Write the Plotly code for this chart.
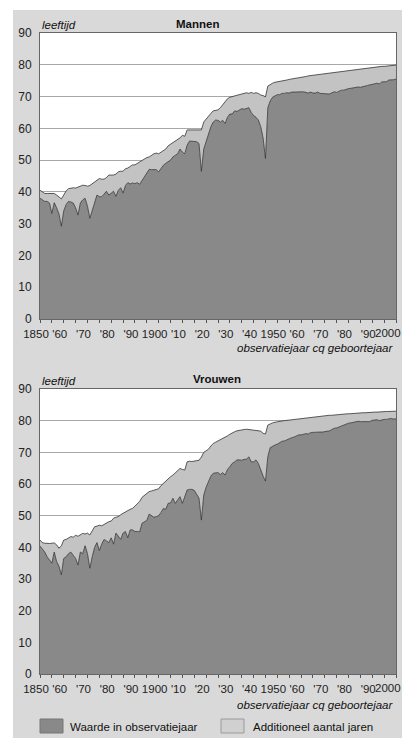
import plotly.graph_objects as go

years = list(range(1850, 2001))

men_period = [
    38.0, 37.5, 37.0, 37.0, 36.5, 33.2, 36.6, 35.0, 33.0, 29.2,
    34.0, 36.0, 37.0, 36.8, 36.5, 35.0, 32.7, 36.5, 37.5, 38.0,
    35.5, 31.7, 34.0, 37.0, 39.0, 38.5, 38.5, 39.3, 40.2, 39.0,
    39.5, 40.2, 38.6, 40.5, 41.3, 39.6, 42.0, 42.9, 42.5, 42.8,
    42.6, 42.9, 42.4, 43.5, 44.5, 45.8, 47.1, 47.0, 47.0, 47.0,
    46.3, 47.5, 48.4, 49.0, 49.5, 50.0, 51.0, 51.5, 52.0, 53.5,
    52.5, 52.0, 54.7, 56.0, 56.0, 56.0, 55.8, 55.2, 46.5, 53.5,
    56.0, 58.5, 60.5, 62.0, 62.6, 62.5, 62.0, 62.5, 61.5, 63.5,
    64.5, 64.5, 65.5, 65.3, 65.8, 66.2, 66.0, 66.3, 66.5, 65.0,
    64.0, 63.5, 62.6, 60.5, 57.0, 50.5, 66.5, 68.6, 69.8, 70.2,
    70.6, 70.6, 71.0, 71.0, 71.2, 71.1, 71.4, 71.4, 71.5, 71.4,
    71.5, 71.5, 71.3, 71.1, 71.4, 71.1, 71.1, 71.4, 71.0, 70.9,
    70.8, 70.9, 70.8, 71.2, 71.5, 71.3, 71.6, 72.0, 72.0, 72.3,
    72.5, 72.6, 72.8, 72.9, 73.0, 72.9, 73.0, 73.3, 73.5, 73.6,
    73.8, 74.0, 74.2, 74.0, 74.6, 74.6, 74.7, 75.2, 75.2, 75.3,
    75.5,
]

men_total = [
    40.5, 40.0, 39.5, 39.5, 39.5, 39.3, 39.5, 39.0, 38.5, 37.8,
    39.0, 40.3, 41.0, 41.2, 41.3, 41.2, 41.5, 41.8, 42.1, 42.0,
    41.8, 42.0, 42.5, 43.0, 43.5, 44.2, 44.0, 44.0, 44.5, 45.3,
    45.3, 45.3, 45.6, 46.3, 46.5, 46.5, 47.3, 47.5, 48.0, 48.5,
    48.5, 49.0, 49.5, 49.8, 50.3, 50.8, 51.0, 51.5, 52.0, 52.2,
    52.0, 52.5, 53.0, 53.5, 54.5, 55.0, 55.5, 55.8, 56.5, 57.0,
    57.8, 57.5, 59.5, 59.5, 59.5, 59.5, 59.4, 59.4, 59.5, 62.0,
    63.0, 64.0, 64.7, 65.5, 65.7, 65.8, 66.5, 67.5, 68.5, 69.3,
    69.8, 70.0, 70.3, 70.5, 70.8, 71.0, 71.1, 71.2, 71.0, 71.3,
    71.0, 71.2, 71.0, 70.5, 70.3, 69.9, 73.3, 73.8, 74.2, 74.5,
    74.6, 74.8, 74.9, 75.1, 75.2, 75.4, 75.5, 75.7, 75.8, 76.0,
    76.1, 76.2, 76.3, 76.5, 76.6, 76.7, 76.8, 76.9, 77.0, 77.1,
    77.3, 77.4, 77.5, 77.6, 77.7, 77.8, 77.9, 78.0, 78.1, 78.2,
    78.3, 78.4, 78.5, 78.6, 78.7, 78.8, 78.9, 78.9, 79.0, 79.1,
    79.2, 79.3, 79.3, 79.4, 79.5, 79.5, 79.6, 79.7, 79.7, 79.8,
    79.9,
]

women_period = [
    40.4, 39.5, 38.5, 37.0, 36.0, 35.0, 38.5, 35.5, 34.0, 31.3,
    36.5, 37.0, 38.0, 38.5, 37.5, 36.5, 34.4, 38.5, 38.0, 40.5,
    38.0, 33.4, 37.0, 40.0, 41.5, 39.0, 41.0, 42.5, 42.0, 41.5,
    43.0, 41.0, 44.5, 43.5, 42.5, 44.5, 45.0, 43.0, 45.5, 45.5,
    45.0, 45.0, 44.9, 47.6, 48.0, 48.5, 50.5, 50.0, 49.5, 49.7,
    50.0, 51.0, 52.3, 52.0, 53.9, 54.0, 55.5, 53.9, 55.0, 56.0,
    53.9, 56.0, 58.1, 58.3, 58.3, 58.0, 56.5, 55.5, 48.6, 56.5,
    59.0, 61.0, 62.5, 63.4, 63.4, 63.6, 63.0, 63.6, 62.8, 64.6,
    65.5, 66.5, 67.0, 67.6, 67.6, 67.5, 67.8, 67.8, 68.6, 67.0,
    67.0, 67.6, 66.5, 64.4, 62.5, 60.9, 68.6, 71.5, 72.0, 72.3,
    72.6, 73.2, 73.5, 73.6, 74.0, 74.3, 74.6, 74.8, 75.2, 75.5,
    75.5, 75.8, 75.9, 75.8, 76.2, 76.3, 76.4, 76.5, 76.4, 76.4,
    76.5, 76.7, 76.8, 77.2, 77.6, 77.7, 78.0, 78.5, 78.6, 79.0,
    79.2, 79.3, 79.5, 79.6, 79.8, 79.7, 79.7, 79.9, 79.8, 79.7,
    80.1, 80.1, 80.3, 80.0, 80.3, 80.4, 80.4, 80.5, 80.7, 80.5,
    80.6,
]

women_total = [
    42.3, 41.5, 41.3, 41.2, 41.2, 41.3, 41.4, 40.8, 39.7, 40.5,
    42.3, 42.5, 43.0, 43.4, 43.2, 43.8, 43.5, 44.0, 44.4, 44.2,
    44.5, 43.9, 45.0, 46.5, 46.7, 47.0, 46.8, 47.3, 47.8, 48.1,
    48.3, 49.2, 49.5, 49.7, 50.3, 50.8, 51.3, 51.6, 52.0, 52.3,
    53.0, 53.8, 54.5, 55.8, 56.5, 57.0, 57.6, 57.8, 58.0, 58.1,
    58.5, 59.5, 60.2, 61.0, 61.8, 62.3, 62.8, 63.5, 64.3, 64.9,
    64.6, 64.4, 67.0, 67.2, 67.1, 67.3, 67.3, 67.5, 68.5, 70.0,
    70.5, 71.0, 72.0, 72.8, 73.2, 73.6, 74.0, 74.3, 74.6, 75.2,
    75.7, 76.2, 76.5, 76.8, 77.0, 77.1, 77.2, 77.3, 77.2, 77.2,
    77.1, 77.0, 76.9, 76.7, 76.0, 75.8, 78.6, 79.0, 79.3, 79.5,
    79.7, 79.8, 79.9, 80.0, 80.1, 80.2, 80.3, 80.4, 80.5, 80.6,
    80.7, 80.8, 80.9, 81.0, 81.0, 81.1, 81.2, 81.3, 81.4, 81.4,
    81.5, 81.6, 81.7, 81.7, 81.8, 81.9, 81.9, 82.0, 82.1, 82.1,
    82.2, 82.2, 82.3, 82.3, 82.4, 82.4, 82.5, 82.5, 82.6, 82.6,
    82.7, 82.7, 82.7, 82.8, 82.8, 82.8, 82.9, 82.9, 82.9, 83.0,
    83.0,
]

tick_years = list(range(1850, 2001, 5))
tick_labels = ["1850", "", "'60", "", "'70", "", "'80", "", "'90", "", "1900", "",
               "'10", "", "'20", "", "'30", "", "'40", "", "1950", "", "'60", "",
               "'70", "", "'80", "", "'90", "", ""]
last_tick_label = "2000"   # placed flush with the right edge, as in the reference
y_ticks = list(range(0, 91, 10))

series_names = ["Waarde in observatiejaar", "Additioneel aantal jaren"]
panel_titles = ["Mannen", "Vrouwen"]

DARK = "#898989"
LIGHT = "#c3c3c3"
PANEL = "#d9d9d9"
LINE = "#333333"
FONT = "Liberation Sans, Arial, sans-serif"

men_extra = [t - p for t, p in zip(men_total, men_period)]
women_extra = [t - p for t, p in zip(women_total, women_period)]

fig = go.Figure()
for period, extra, xa, ya, grp in [
    (men_period, men_extra, "x", "y", "m"),
    (women_period, women_extra, "x2", "y2", "v"),
]:
    fig.add_trace(go.Scatter(
        x=years, y=period, name=series_names[0], stackgroup=grp,
        mode="lines", line=dict(color=LINE, width=0.8), fillcolor=DARK,
        xaxis=xa, yaxis=ya, showlegend=False, hoverinfo="x+y"))
    fig.add_trace(go.Scatter(
        x=years, y=extra, name=series_names[1], stackgroup=grp,
        mode="lines", line=dict(color=LINE, width=0.8), fillcolor=LIGHT,
        xaxis=xa, yaxis=ya, showlegend=False, hoverinfo="x+y"))

H = 738
ML, MR, MT, MB = 40, 6, 33, 64
PH = H - MT - MB
PW = 402 - ML - MR


def py(px):
    return (H - MB - px) / PH


def pxx(px):
    return (px - ML) / PW


xax = dict(range=[1850, 2000], tickmode="array", tickvals=tick_years, ticktext=tick_labels,
           ticks="outside", ticklen=3, tickcolor="#555555", showgrid=False,
           tickangle=0, ticklabelstandoff=1, ticklabelshift=-4,
           ticklabeloverflow="allow", automargin=False,
           showline=True, linecolor="#666666", linewidth=1, mirror=True, zeroline=False,
           tickfont=dict(family=FONT, size=11.5, color="#222222"), fixedrange=True)
yax = dict(range=[0, 90], tickmode="array", tickvals=y_ticks,
           ticks="outside", ticklen=5, tickcolor="rgba(0,0,0,0)", automargin=False,
           showgrid=True, gridcolor="#a8a8a8", gridwidth=1,
           showline=True, linecolor="#666666", linewidth=1, mirror=True, zeroline=False,
           tickfont=dict(family=FONT, size=12, color="#222222"), fixedrange=True)

fig.update_layout(
    width=402, height=H, autosize=False,
    margin=dict(l=ML, r=MR, t=MT, b=MB, pad=0, autoexpand=False),
    paper_bgcolor=PANEL, plot_bgcolor="white",
    showlegend=False,
    xaxis=dict(xax, domain=[0, 1], anchor="y"),
    yaxis=dict(yax, domain=[py(319), 1], anchor="x"),
    xaxis2=dict(xax, domain=[0, 1], anchor="y2"),
    yaxis2=dict(yax, domain=[0, py(389)], anchor="x2"),
)

shapes = [
    # white page outside the grey panel
    dict(type="rect", xref="paper", yref="paper", x0=-0.3, x1=pxx(13), y0=-0.3, y1=1.3,
         fillcolor="white", line=dict(width=0), layer="above"),
    dict(type="rect", xref="paper", yref="paper", x0=-0.3, x1=1.3, y0=py(10), y1=1.3,
         fillcolor="white", line=dict(width=0), layer="above"),
    # legend swatches
    dict(type="rect", xref="paper", yref="paper", x0=pxx(40), x1=pxx(63), y0=py(733), y1=py(719),
         fillcolor=DARK, line=dict(color="#777777", width=1)),
    dict(type="rect", xref="paper", yref="paper", x0=pxx(221), x1=pxx(244), y0=py(733), y1=py(719),
         fillcolor="#d0d0d0", line=dict(color="#9a9a9a", width=1)),
]

tf = dict(family=FONT, size=11.5, color="#111111")
tickf = dict(family=FONT, size=11.5, color="#222222")
ann = [
    dict(text="<b>" + panel_titles[0] + "</b>", x=pxx(197), y=py(24)),
    dict(text="<i>leeftijd</i>", x=pxx(40), y=py(25), xanchor="left"),
    dict(text="<i>observatiejaar cq geboortejaar</i>", x=pxx(396), y=py(348), xanchor="right"),
    dict(text=last_tick_label, x=pxx(402), y=py(333), xanchor="right", font=tickf, borderpad=0),
    dict(text="<b>" + panel_titles[1] + "</b>", x=pxx(217), y=py(379)),
    dict(text="<i>leeftijd</i>", x=pxx(40), y=py(381), xanchor="left"),
    dict(text="<i>observatiejaar cq geboortejaar</i>", x=pxx(396), y=py(705), xanchor="right"),
    dict(text=last_tick_label, x=pxx(402), y=py(688), xanchor="right", font=tickf, borderpad=0),
    dict(text=series_names[0], x=pxx(68), y=py(727), xanchor="left"),
    dict(text=series_names[1], x=pxx(251), y=py(727), xanchor="left"),
]
annotations = []
for a in ann:
    d = dict(xref="paper", yref="paper", showarrow=False, yanchor="middle", font=tf)
    d.setdefault("xanchor", "center")
    d.update(a)
    annotations.append(d)

fig.update_layout(shapes=shapes, annotations=annotations)

fig.write_html("out.html", config={"displayModeBar": False},
               post_script="document.body.style.margin='0';document.body.style.overflow='hidden';")
